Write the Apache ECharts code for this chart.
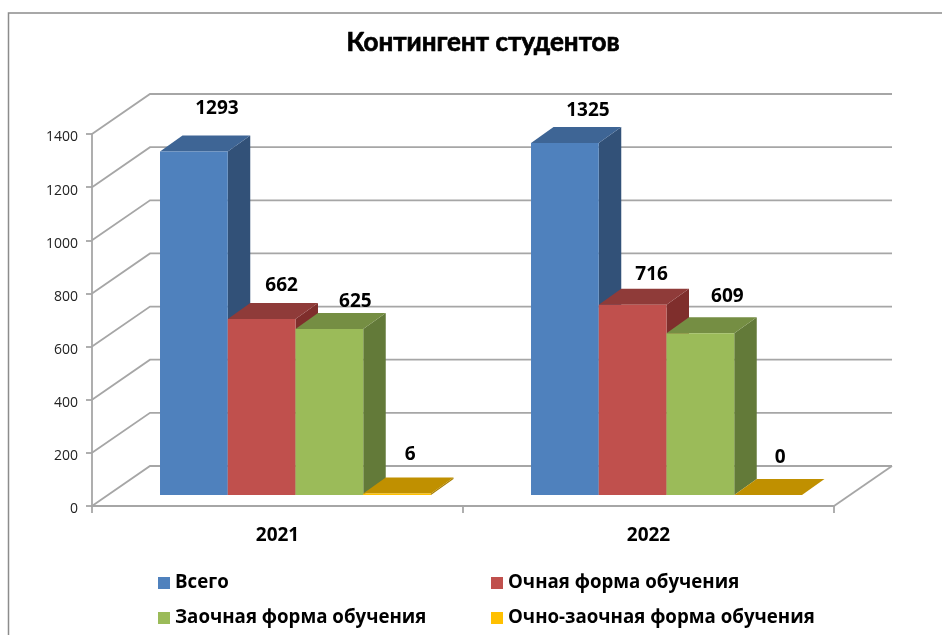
<!DOCTYPE html>
<html>
<head>
<meta charset="utf-8">
<style>
    html, body { margin: 0; padding: 0; background: #fff; }
    #chart { width: 942px; height: 635px; }
</style>
<script src="https://cdn.jsdelivr.net/npm/echarts@6/dist/echarts.min.js"></script>
</head>
<body>
<div id="chart"></div>
<script>
const categories = ['2021', '2022'];
const yTicks = [0, 200, 400, 600, 800, 1000, 1200, 1400];
const seriesNames = ['Всего', 'Очная форма обучения', 'Заочная форма обучения', 'Очно-заочная форма обучения'];
const totalValues = [1293, 1325];
const fullTimeValues = [662, 716];
const extramuralValues = [625, 609];
const mixedValues = [6, 0];
const seriesValues = [totalValues, fullTimeValues, extramuralValues, mixedValues];

// front / top / side colours of each bar
const barColors = [
    ['#4F81BD', '#3E6595', '#325178'],
    ['#C0504D', '#8F3B39', '#7F2E2C'],
    ['#9BBB59', '#758E43', '#637A39'],
    ['#FFC000', '#C09000', '#A87E00']
];
// hand placed labels, as in the original chart: offset from the bar's front top centre
const labelOffsets = [
    [[23, -43], [23, -32]],
    [[20, -34], [19, -30]],
    [[26, -27], [27, -37]],
    [[13, -39], [12, -37]]
];

const WALL_DX = 58, WALL_DY = -40;     // depth of the chart box
const FLOOR_DX = 18, FLOOR_DY = -11;   // bars stand a little behind the front edge
const BAR_DX = 22.5, BAR_DY = -16;     // depth of a bar
const BAR_RATIO = 0.1826;
const fontName = '"Open Sans", sans-serif';
const wallColor = '#A6A6A6';
const wallWidth = 1.8;

function renderWall (params, api) {
    const sys = params.coordSys;
    const y = api.coord([0, api.value(0)])[1];
    const children = [{
        type: 'polyline',
        shape: { points: [[sys.x, y], [sys.x + WALL_DX, y + WALL_DY], [sys.x + sys.width + WALL_DX, y + WALL_DY]] },
        style: { stroke: wallColor, lineWidth: wallWidth, fill: null }
    }];
    if (api.value(0) === 0) {
        children.push({
            type: 'line',
            shape: { x1: sys.x + sys.width, y1: y, x2: sys.x + sys.width + WALL_DX, y2: y + WALL_DY },
            style: { stroke: wallColor, lineWidth: wallWidth }
        });
    }
    return { type: 'group', children: children };
}

function makeBarRenderer (seriesIndex) {
    return function (params, api) {
        const cat = api.value(0);
        const val = api.value(1);
        const pt = api.coord([cat, val]);
        const base = api.coord([cat, 0]);
        const w = api.size([1, 0])[0] * BAR_RATIO;
        const x0 = pt[0] + FLOOR_DX - 2 * w + seriesIndex * w;
        const x1 = x0 + w;
        const yTop = pt[1] + FLOOR_DY;
        const yBase = base[1] + FLOOR_DY;
        const colors = barColors[seriesIndex];
        const offset = labelOffsets[seriesIndex][cat];
        return {
            type: 'group',
            children: [
                {
                    type: 'polygon',
                    shape: { points: [[x1, yTop], [x1 + BAR_DX, yTop + BAR_DY], [x1 + BAR_DX, yBase + BAR_DY], [x1, yBase]] },
                    style: { fill: colors[2] }
                },
                {
                    type: 'polygon',
                    shape: { points: [[x0, yTop], [x1, yTop], [x1 + BAR_DX, yTop + BAR_DY], [x0 + BAR_DX, yTop + BAR_DY]] },
                    style: { fill: colors[1] }
                },
                {
                    type: 'rect',
                    shape: { x: x0, y: yTop, width: w, height: yBase - yTop },
                    style: { fill: colors[0] }
                },
                {
                    type: 'text',
                    z2: 100,
                    style: {
                        x: x0 + w / 2 + offset[0],
                        y: yTop + offset[1],
                        text: String(val),
                        fill: '#000',
                        font: 'bold 19px ' + fontName,
                        align: 'center',
                        verticalAlign: 'middle'
                    }
                }
            ]
        };
    };
}

const barSeries = seriesNames.map(function (name, i) {
    return {
        name: name,
        type: 'custom',
        coordinateSystem: 'cartesian2d',
        clip: false,
        z: 3,
        itemStyle: { color: barColors[i][0] },
        encode: { x: 0, y: 1 },
        data: seriesValues[i].map(function (v, c) { return [c, v]; }),
        renderItem: makeBarRenderer(i)
    };
});

const legendText = { color: '#000', fontFamily: fontName, fontWeight: 'bold', fontSize: 18.7, lineHeight: 20 };

const chart = echarts.init(document.getElementById('chart'), null, { renderer: 'canvas' });
chart.setOption({
    animation: false,
    backgroundColor: '#fff',
    title: {
        text: 'Контингент студентов',
        left: 478,
        top: 21,
        textAlign: 'center',
        textStyle: {
            color: '#000',
            fontFamily: 'Lato, "Open Sans", sans-serif',
            fontWeight: 'bold',
            fontSize: 26,
            lineHeight: 34,
            textBorderColor: '#000',
            textBorderWidth: 0.7
        }
    },
    legend: [
        {
            data: [seriesNames[0], seriesNames[2]],
            orient: 'vertical', left: 158, top: 573,
            padding: 0, itemWidth: 12, itemHeight: 12, itemGap: 15, icon: 'rect',
            textStyle: legendText
        },
        {
            data: [seriesNames[1], seriesNames[3]],
            orient: 'vertical', left: 491, top: 573,
            padding: 0, itemWidth: 12, itemHeight: 12, itemGap: 15, icon: 'rect',
            textStyle: legendText
        }
    ],
    grid: { left: 92, top: 134, width: 742, height: 372 },
    xAxis: {
        type: 'category',
        data: categories,
        axisLine: { lineStyle: { color: wallColor, width: wallWidth } },
        axisTick: { show: true, alignWithLabel: false, length: 7, lineStyle: { color: wallColor, width: wallWidth } },
        axisLabel: { color: '#000', fontFamily: fontName, fontWeight: 'bold', fontSize: 19, margin: 20 }
    },
    yAxis: {
        type: 'value',
        min: 0,
        max: 1400,
        interval: 200,
        splitLine: { show: false },
        axisLine: { show: true, lineStyle: { color: wallColor, width: wallWidth } },
        axisTick: { show: true, length: 6, lineStyle: { color: wallColor, width: wallWidth } },
        axisLabel: {
            margin: 14,
            formatter: function (v) { return '{t|' + v + '}'; },
            rich: {
                t: { color: '#222', fontFamily: fontName, fontSize: 14, padding: [7, 0, 0, 0] }
            }
        }
    },
    graphic: [{
        type: 'polyline',
        shape: { points: [[8.5, 635], [8.5, 13], [942, 13]] },
        style: { stroke: '#8C8C8C', lineWidth: 1.5, fill: null }
    }],
    series: [{
        name: 'wall',
        type: 'custom',
        coordinateSystem: 'cartesian2d',
        clip: false,
        z: 1,
        silent: true,
        encode: { y: 0 },
        data: yTicks.map(function (v) { return [v]; }),
        renderItem: renderWall
    }].concat(barSeries)
});
</script>
</body>
</html>
